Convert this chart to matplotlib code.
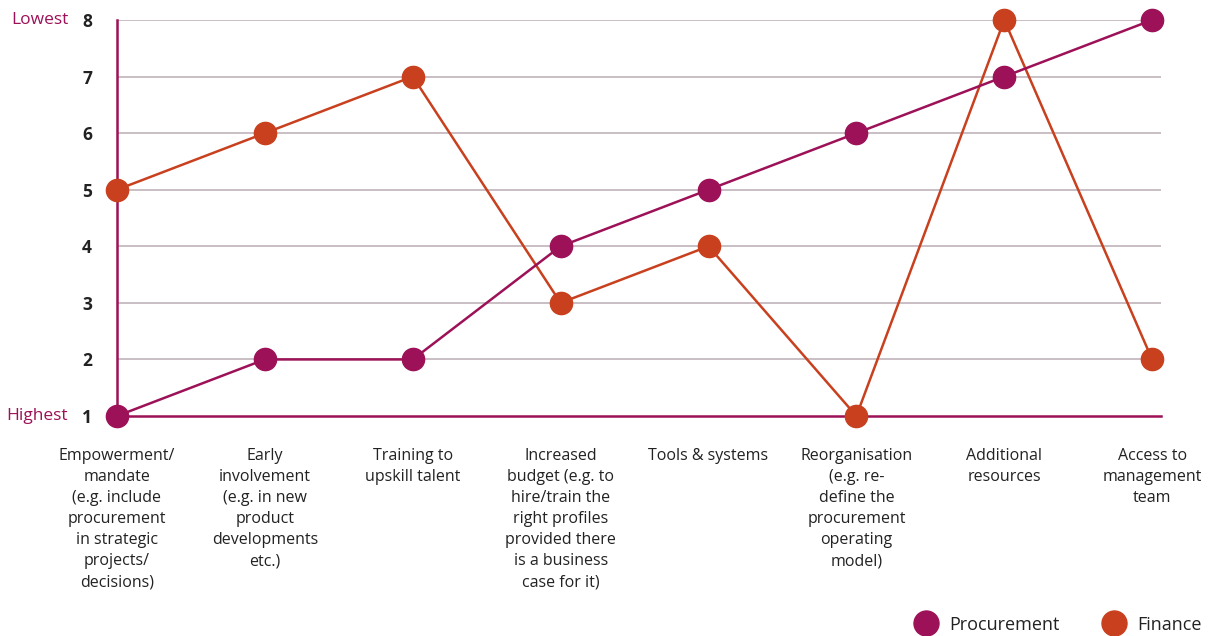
import matplotlib.pyplot as plt
from matplotlib.lines import Line2D

plt.rcParams['font.family'] = ['Open Sans', 'DejaVu Sans']

categories = [
    "Empowerment/\nmandate\n(e.g. include\nprocurement\nin strategic\nprojects/\ndecisions)",
    "Early\ninvolvement\n(e.g. in new\nproduct\ndevelopments\netc.)",
    "Training to\nupskill talent",
    "Increased\nbudget (e.g. to\nhire/train the\nright profiles\nprovided there\nis a business\ncase for it)",
    "Tools & systems",
    "Reorganisation\n(e.g. re-\ndefine the\nprocurement\noperating\nmodel)",
    "Additional\nresources",
    "Access to\nmanagement\nteam",
]
procurement = [1, 2, 2, 4, 5, 6, 7, 8]
finance = [5, 6, 7, 3, 4, 1, 8, 2]
rank_ticks = [1, 2, 3, 4, 5, 6, 7, 8]

PURPLE = '#9c1157'
ORANGE = '#c8401e'
GRID = '#b9acb3'
TEXT = '#222222'

fig = plt.figure(figsize=(12.18, 6.36), dpi=100)
ax = fig.add_axes([117 / 1218, 1 - 416 / 636, (1161 - 117) / 1218, (416 - 20) / 636])

x = list(range(len(categories)))
ax.plot(x, finance, '-o', color=ORANGE, lw=1.8, markersize=16, clip_on=False, zorder=3)
ax.plot(x, procurement, '-o', color=PURPLE, lw=1.8, markersize=16, clip_on=False, zorder=4)

ax.set_xlim(0, 7.06)
ax.set_ylim(1, 8)
for v in rank_ticks[1:]:
    ax.axhline(v, color=GRID, lw=1.1, zorder=1)

for s in ['top', 'right']:
    ax.spines[s].set_visible(False)
ax.spines['left'].set_color(PURPLE)
ax.spines['bottom'].set_color(PURPLE)
ax.spines['left'].set_linewidth(1.8)
ax.spines['bottom'].set_linewidth(1.8)
ax.spines['bottom'].set_zorder(2)

ax.set_yticks(rank_ticks)
ax.set_yticklabels([str(v) for v in rank_ticks], fontsize=12.5, fontweight='bold', color=TEXT)
ax.tick_params(axis='y', length=0, pad=18)
ax.set_xticks([])

ax.text(-0.33, 8, 'Lowest', transform=ax.transData, ha='right', va='center',
        fontsize=12.5, color=PURPLE)
ax.text(-0.33, 1, 'Highest', transform=ax.transData, ha='right', va='center',
        fontsize=12.5, color=PURPLE)

for i, lab in enumerate(categories):
    ax.annotate(lab, xy=(i, 1), xytext=(0, -23), textcoords='offset points',
                ha='center', va='top', fontsize=11.5, color=TEXT, linespacing=1.42,
                annotation_clip=False)

handles = [
    Line2D([], [], marker='o', ls='none', color=PURPLE, markersize=18),
    Line2D([], [], marker='o', ls='none', color=ORANGE, markersize=18),
]
fig.legend(handles, ['Procurement', 'Finance'], loc='lower right',
           bbox_to_anchor=(1.0, -0.022), ncol=2, frameon=False, fontsize=13,
           handletextpad=0.3, columnspacing=2.0, labelcolor=TEXT)

fig.savefig('out.png', dpi=100)
